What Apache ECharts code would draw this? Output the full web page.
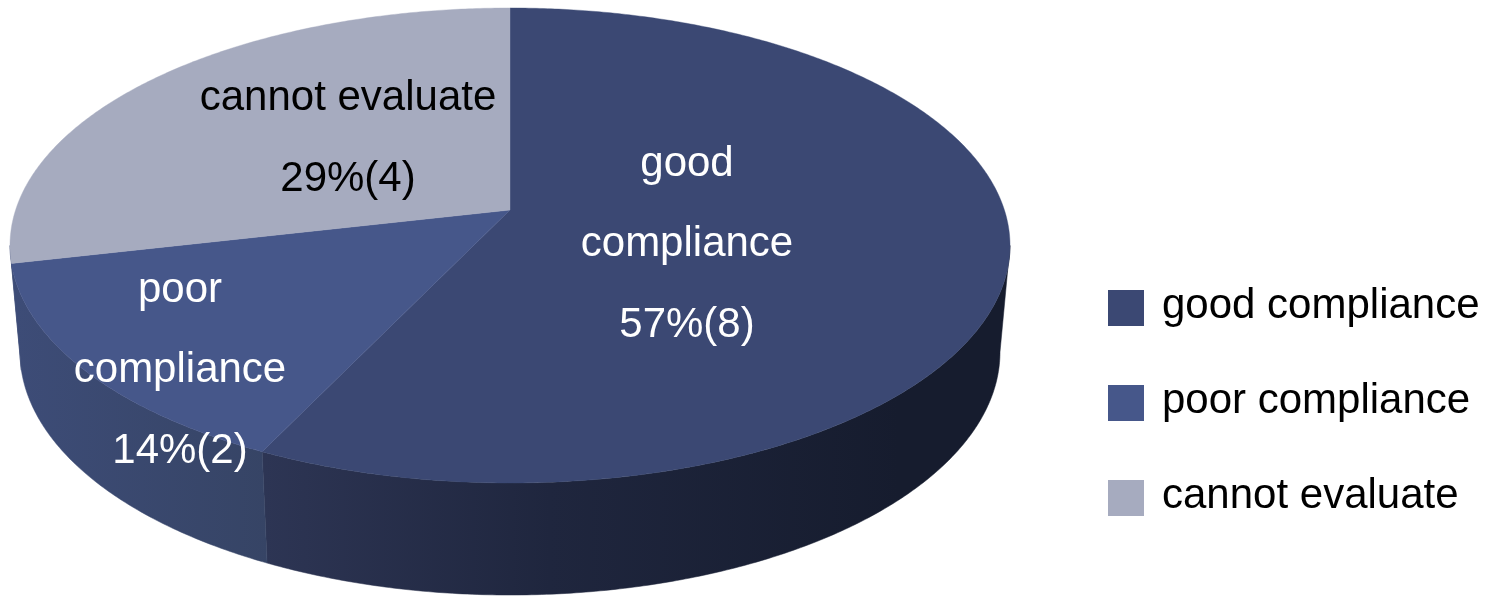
<!DOCTYPE html>
<html>
<head>
<meta charset="utf-8">
<style>html,body{margin:0;padding:0;background:#fff}#c{width:1496px;height:596px}</style>
<script src="https://cdn.jsdelivr.net/npm/echarts@6/dist/echarts.min.js"></script>
</head>
<body>
<div id="c"></div>
<script>
// --- data ---
const categories = ['good compliance', 'poor compliance', 'cannot evaluate'];
const counts = [8, 2, 4];
const percents = ['57%', '14%', '29%'];
const labelLines = [['good', 'compliance'], ['poor', 'compliance'], ['cannot evaluate']];

// --- style ---
const topColors = ['#3b4873', '#46578a', '#a6abbf'];
const labelColors = ['#ffffff', '#ffffff', '#000000'];
const sideStops = [
  [[0, '#2d3554'], [0.45, '#1f263e'], [1, '#161c2e']],
  [[0, '#3d4c77'], [1, '#364465']],
  [[0, '#3d4c77'], [1, '#364465']]
];
const sideRanges = [[265, 900], [15, 270], [15, 270]];
const labelCentres = [[687, 244.5], [180, 370.5], [348, 139]];

// --- layout: tilted disc, a circle seen through a perspective mapping ---
const FONT = '"Liberation Sans", Arial, sans-serif';
const CX = 510, K = 0.1494;
const TOP_FACE = { a: 494.4, b: 232.2, cy: 210 };
const BOTTOM_FACE = { a: 484.5, b: 237.6, cy: 315.7 };
const total = counts.reduce((s, v) => s + v, 0);
// the wall is only seen between the two points where the rims are widest
const WALL_FROM = Math.acos(-K);
const WALL_TO = 2 * Math.PI - WALL_FROM;

function project(face, theta) {
  const u = Math.sin(theta), v = -Math.cos(theta), w = 1 - K * v;
  return [CX + face.a * u / w, face.cy + face.b * v / w];
}
function rim(face, t0, t1) {
  const pts = [], n = Math.max(2, Math.ceil((t1 - t0) / (Math.PI / 360)));
  for (let i = 0; i <= n; i++) pts.push(project(face, t0 + (t1 - t0) * i / n));
  return pts;
}
function startOf(i) {
  let s = 0;
  for (let j = 0; j < i; j++) s += counts[j];
  return s / total * 2 * Math.PI;
}

function renderSlice(params, api) {
  const i = params.seriesIndex;
  const t0 = startOf(i), t1 = t0 + api.value(0) / total * 2 * Math.PI;
  const children = [];
  const w0 = Math.max(t0, WALL_FROM), w1 = Math.min(t1, WALL_TO);
  if (w1 > w0) {
    const [x0, x1] = sideRanges[i];
    const fill = new echarts.graphic.LinearGradient(x0, 0, x1, 0,
      sideStops[i].map(s => ({ offset: s[0], color: s[1] })), true);
    children.push({
      type: 'polygon', z2: 1,
      shape: { points: rim(TOP_FACE, w0, w1).concat(rim(BOTTOM_FACE, w0, w1).reverse()) },
      style: { fill: fill, stroke: fill, lineWidth: 0.5 }
    });
  }
  children.push({
    type: 'polygon', z2: 2,
    shape: { points: [[CX, TOP_FACE.cy]].concat(rim(TOP_FACE, t0, t1)) },
    style: { fill: topColors[i], stroke: topColors[i], lineWidth: 0.4 }
  });
  children.push({
    type: 'text', z2: 3,
    style: {
      text: labelLines[i].concat([percents[i] + '(' + api.value(0) + ')']).join('\n'),
      x: labelCentres[i][0], y: labelCentres[i][1],
      align: 'center', verticalAlign: 'middle',
      fontFamily: FONT, fontSize: 42, lineHeight: 80.5,
      fill: labelColors[i]
    }
  });
  return { type: 'group', children: children };
}

const chart = echarts.init(document.getElementById('c'), null, { renderer: 'canvas' });
chart.setOption({
  animation: false,
  backgroundColor: '#ffffff',
  legend: {
    orient: 'vertical', left: 1108, top: 285,
    itemWidth: 36, itemHeight: 36, itemGap: 53,
    padding: 0, selectedMode: false,
    formatter: name => '{t|' + name + '}',
    textStyle: {
      fontFamily: FONT, fontSize: 42, color: '#000000', padding: [0, 0, 4, 13],
      rich: { t: { fontFamily: FONT, fontSize: 42, color: '#000000' } }
    },
    data: categories.map((n, i) => ({ name: n, icon: 'rect', itemStyle: { color: topColors[i] } }))
  },
  series: categories.map((n, i) => ({
    type: 'custom',
    name: n,
    coordinateSystem: 'none',
    silent: true,
    clip: false,
    itemStyle: { color: topColors[i] },
    renderItem: renderSlice,
    data: [[counts[i]]]
  }))
});
</script>
</body>
</html>
